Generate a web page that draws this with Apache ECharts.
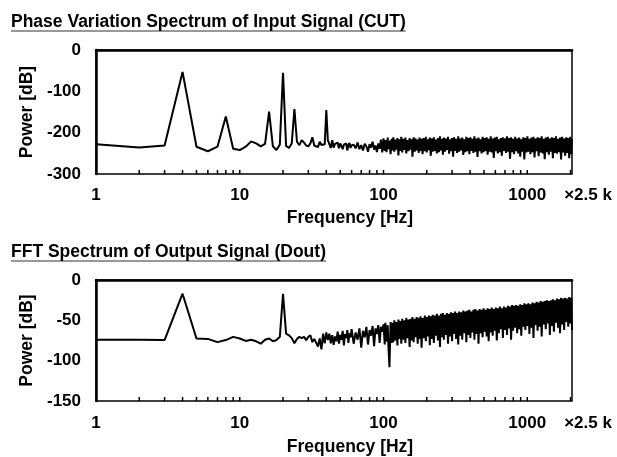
<!DOCTYPE html>
<html>
<head>
<meta charset="utf-8">
<script src="https://cdn.jsdelivr.net/npm/echarts@6/dist/echarts.min.js"></script>
<style>
  html, body { margin: 0; padding: 0; background: #fff; }
  #chart { width: 617px; height: 457px; }
</style>
</head>
<body>
<div id="chart"></div>
<script>
// frequency samples [Hz] shared by both spectra
var freqHz = [
    1, 2, 3, 4, 5, 6, 7, 8, 9, 10, 11, 12, 13, 14, 15, 16, 17, 18, 19, 20,
    21, 22, 23, 24, 25, 26, 27, 28, 29, 30, 31, 32, 33, 34, 35, 36, 37, 38, 39, 40,
    41, 42, 43, 44, 45, 46, 47, 48, 49, 50, 51, 52, 53, 54, 55, 56, 57, 58, 59, 60,
    62, 64, 66, 68, 70, 72, 74, 76, 78, 80, 82, 84, 86, 88, 90, 92, 94, 96, 98,
    100, 102, 103, 105, 107, 108, 110, 112, 114, 115,
    117, 119, 121, 123, 125, 127, 129, 131, 133, 135,
    138, 140, 142, 144, 147, 149, 152, 154, 157, 159,
    162, 165, 167, 170, 173, 176, 178, 181, 184, 187,
    190, 194, 197, 200, 203, 207, 210, 213, 217, 220,
    224, 228, 231, 235, 239, 243, 247, 251, 255, 259,
    263, 268, 272, 276, 281, 286, 290, 295, 300, 305,
    310, 315, 320, 325, 331, 336, 342, 347, 353, 359,
    365, 371, 377, 383, 389, 396, 402, 409, 415, 422,
    429, 436, 443, 451, 458, 466, 473, 481, 489, 497,
    505, 513, 522, 530, 539, 548, 557, 566, 575, 585,
    594, 604, 614, 624, 634, 645, 655, 666, 677, 688,
    700, 711, 723, 735, 747, 759, 772, 784, 797, 810,
    824, 837, 851, 865, 879, 894, 909, 924, 939, 954,
    970, 986, 1002, 1019, 1035, 1052, 1070, 1087, 1105, 1124,
    1142, 1161, 1180, 1200, 1219, 1239, 1260, 1281, 1302, 1323,
    1345, 1367, 1390, 1413, 1436, 1460, 1484, 1508, 1533, 1558,
    1584, 1610, 1637, 1664, 1691, 1719, 1748, 1776, 1806, 1835,
    1866, 1896, 1928, 1959, 1992, 2024, 2048
];

// 上段: phase variation spectrum of input (CUT) [dB]
var phaseDb = [
    -228, -236, -231, -53, -234, -245, -234, -161, -239, -242,
    -234, -221, -226, -233, -227, -149, -233, -242, -229, -55,
    -232, -237, -226, -143, -222, -230, -218, -224, -231, -233,
    -226, -211, -231, -229, -235, -222, -230, -232, -228, -145,
    -218, -222, -237, -218, -236, -227, -231, -224, -238, -226,
    -232, -240, -229, -231, -226, -243, -230, -225, -237, -231,
    -229, -238, -224, -240, -230, -243, -227, -233, -246, -228,
    -236, -222, -241, -231, -247, -226, -239, -217, -248,
    -214, -244, -218, -247, -212, -240, -219, -252, -215, -243,
    -211, -246, -217, -241, -213, -255, -216, -244, -210, -248,
    -215, -242, -212, -250, -218, -245, -213, -241, -216, -258,
    -211, -246, -214, -243, -217, -249, -212, -244, -215, -252,
    -213, -245, -210, -248, -216, -242, -212, -256, -214, -246,
    -211, -244, -217, -250, -213, -247, -209, -243, -215, -253,
    -212, -246, -214, -242, -210, -251, -216, -245, -213, -258,
    -211, -244, -215, -249, -209, -246, -214, -243, -212, -254,
    -216, -247, -210, -245, -213, -252, -211, -244, -215, -249,
    -209, -246, -214, -259, -212, -245, -216, -250, -210, -247,
    -213, -244, -211, -253, -215, -246, -209, -248, -214, -261,
    -212, -245, -210, -250, -216, -247, -213, -256, -211, -244,
    -214, -249, -209, -246, -213, -263, -211, -247, -215, -252,
    -210, -245, -214, -250, -212, -258, -216, -246, -211, -265,
    -213, -248, -209, -246, -215, -252, -212, -247, -210, -260,
    -214, -245, -211, -257, -213, -248, -209, -250, -215, -264,
    -212, -247, -210, -253, -214, -246, -211, -262, -213, -249,
    -209, -251, -215, -247, -212, -265, -210, -248, -214, -256,
    -211, -249, -213, -262, -210, -252, -215
];

// 下段: FFT spectrum of output (Dout) [dB]
var outputDb = [
    -74, -74, -74.5, -17, -72.5, -73, -77, -74.5, -70.5, -72.5,
    -75.5, -74, -76, -79, -74, -72.5, -76, -74.5, -70.5, -17,
    -66.5, -68.5, -72, -78.5, -73, -70.5, -72, -70.5, -74.5, -70.5,
    -68.5, -77, -73, -74.5, -82.5, -72.5, -86, -66.5, -78.5, -65,
    -74.5, -66.5, -78.5, -68.5, -80.5, -70, -76, -64, -79, -68,
    -74, -63, -81, -67, -72, -62, -78, -66, -71, -61,
    -79, -65, -74, -60, -84, -63, -71, -58, -80, -62,
    -69, -57, -82, -60, -67, -56, -78, -58, -64,
    -55, -80, -53, -76, -56, -79, -108, -52, -78, -53,
    -77, -50, -75, -52, -81, -49, -73, -51, -79, -48,
    -74, -50, -78, -47, -72, -49, -83, -48, -75, -46,
    -77, -48, -71, -46, -79, -47, -73, -45, -84, -47,
    -72, -44, -76, -46, -70, -44, -81, -45, -73, -43,
    -78, -44, -69, -42, -75, -44, -83, -42, -71, -41,
    -74, -43, -68, -41, -79, -42, -70, -40, -76, -41,
    -67, -39, -73, -41, -80, -39, -69, -40, -74, -38,
    -66, -39, -77, -38, -68, -37, -72, -39, -65, -37,
    -74, -36, -67, -38, -79, -36, -66, -37, -71, -35,
    -64, -37, -70, -35, -76, -36, -65, -34, -69, -36,
    -63, -34, -75, -35, -66, -33, -61, -35, -72, -33,
    -62, -34, -68, -32, -60, -33, -74, -31, -63, -32,
    -59, -31, -66, -32, -61, -30, -69, -31, -58, -29,
    -62, -30, -57, -29, -67, -30, -59, -28, -72, -29,
    -56, -27, -63, -28, -58, -26, -70, -27, -55, -26,
    -61, -25, -54, -26, -68, -25, -57, -24, -64, -25,
    -53, -23, -59, -24, -66, -22, -55, -23, -62, -22,
    -52, -23, -58, -21, -54, -22, -62
];

// x 軸の目盛り
var tickHz = [2, 3, 4, 5, 6, 7, 8, 9, 10, 20, 30, 40, 50, 60, 70, 80, 90, 100,
    200, 300, 400, 500, 600, 700, 800, 900, 1000, 2000];
var xTickValues = [1, 10, 100, 1000];
var xTickLabels = ['1', '10', '100', '1000'];
var xEndLabel = '×2.5 k';
var titles = ['Phase Variation Spectrum of Input Signal (CUT)', 'FFT Spectrum of Output Signal (Dout)'];

var fontFamily = '"Liberation Sans", Arial, Helvetica, sans-serif';
var boldText = { fontFamily: fontFamily, fontWeight: 'bold', color: '#000' };

function textStyle(size, extra) {
    return Object.assign({}, boldText, { fontSize: size }, extra || {});
}

// タイトル下線の幅
function measureTitle(text) {
    var ctx = document.createElement('canvas').getContext('2d');
    ctx.font = 'bold 17.5px ' + fontFamily;
    return ctx.measureText(text).width;
}

function makeXAxis(gridIndex, nameGap, labelMargin) {
    return {
        type: 'log',
        logBase: 10,
        gridIndex: gridIndex,
        min: 1,
        max: 2048,
        name: 'Frequency [Hz]',
        nameLocation: 'middle',
        nameGap: nameGap,
        nameTextStyle: textStyle(17.5, { padding: [0, 0, 0, 32] }),
        axisLine: { lineStyle: { color: '#000', width: 2.5 } },
        axisTick: { show: false },
        minorTick: { show: false },
        splitLine: { show: false },
        axisLabel: Object.assign(textStyle(17), {
            margin: labelMargin,
            showMinLabel: true,
            showMaxLabel: true,
            formatter: function (v) {
                for (var i = 0; i < xTickValues.length; i++) {
                    if (Math.abs(v - xTickValues[i]) < xTickValues[i] * 0.01) return xTickLabels[i];
                }
                return '{end|' + xEndLabel + '}';
            },
            rich: { end: textStyle(17, { padding: [0, 0, 0, 32] }) }
        })
    };
}

function makeYAxis(gridIndex, min, interval) {
    return {
        type: 'value',
        gridIndex: gridIndex,
        min: min,
        max: 0,
        interval: interval,
        name: 'Power [dB]',
        nameLocation: 'middle',
        nameGap: 56,
        nameTextStyle: textStyle(17.5),
        axisLine: { show: true, lineStyle: { color: '#000', width: 2.5 } },
        axisTick: { show: false },
        splitLine: { show: false },
        axisLabel: Object.assign(textStyle(17), { margin: 15 })
    };
}

function spectrumSeries(axisIndex, values) {
    return {
        type: 'line',
        xAxisIndex: axisIndex,
        yAxisIndex: axisIndex,
        data: freqHz.map(function (f, i) { return [f, values[i]]; }),
        symbol: 'none',
        sampling: null,
        silent: true,
        lineStyle: { color: '#000', width: 2 }
    };
}

// 内向きの目盛り線（2..9 倍）
function tickSeries(axisIndex, yMin) {
    return {
        type: 'custom',
        xAxisIndex: axisIndex,
        yAxisIndex: axisIndex,
        silent: true,
        clip: false,
        data: tickHz.map(function (f) { return [f, yMin]; }),
        renderItem: function (params, api) {
            var p = api.coord([api.value(0), api.value(1)]);
            return {
                type: 'line',
                shape: { x1: p[0], y1: p[1], x2: p[0], y2: p[1] - 4 },
                style: { stroke: '#000', lineWidth: 1.5 }
            };
        }
    };
}

var chart = echarts.init(document.getElementById('chart'));

var option = {
    animation: false,
    backgroundColor: '#fff',
    title: [
        { text: titles[0], left: 11, top: 13, padding: 0, textStyle: textStyle(17.5) },
        { text: titles[1], left: 11, top: 243, padding: 0, textStyle: textStyle(17.5) }
    ],
    graphic: [
        { type: 'line', shape: { x1: 11, y1: 31, x2: 11 + measureTitle(titles[0]), y2: 31 }, style: { stroke: '#333', lineWidth: 1.2 } },
        { type: 'line', shape: { x1: 11, y1: 261, x2: 11 + measureTitle(titles[1]), y2: 261 }, style: { stroke: '#333', lineWidth: 1.2 } }
    ],
    grid: [
        { left: 96, top: 50, width: 476, height: 124, show: true, borderColor: '#000', borderWidth: 1.5 },
        { left: 96, top: 280, width: 476, height: 124, show: true, borderColor: '#000', borderWidth: 1.5 }
    ],
    xAxis: [makeXAxis(0, 35, 13), makeXAxis(1, 37, 14)],
    yAxis: [makeYAxis(0, -300, 100), makeYAxis(1, -150, 50)],
    series: [
        spectrumSeries(0, phaseDb),
        spectrumSeries(1, outputDb),
        tickSeries(0, -300),
        tickSeries(1, -150)
    ]
};

chart.setOption(option);
</script>
</body>
</html>
